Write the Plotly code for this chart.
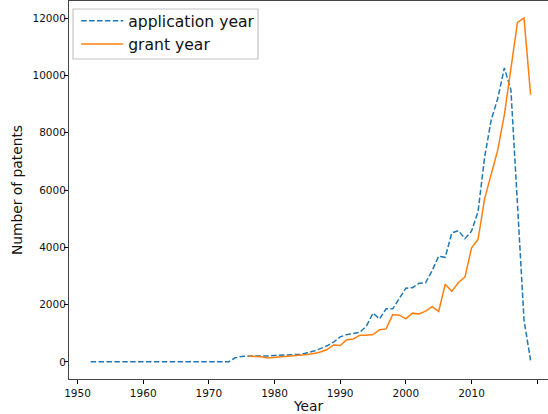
import plotly.graph_objects as go

app_years = list(range(1952, 2020))
app_counts = [0] * 22 + [
    140, 190, 200, 195, 185, 200, 225, 240, 250, 245, 260, 320, 375, 460, 560, 690,
    870, 950, 990, 1030, 1250, 1700, 1500, 1850, 1850, 2200, 2570, 2590, 2740, 2760,
    3180, 3690, 3650, 4500, 4580, 4300, 4560, 5250, 7150, 8450, 9200, 10260, 9500,
    5500, 1450, 50]

grant_years = list(range(1976, 2020))
grant_counts = [
    200, 200, 175, 130, 150, 180, 195, 195, 225, 255, 290, 345, 430, 590, 570, 770,
    800, 930, 925, 950, 1120, 1150, 1650, 1630, 1500, 1700, 1670, 1770, 1930, 1760,
    2710, 2460, 2770, 2960, 3970, 4280, 5700, 6600, 7400, 8620, 10200, 11850, 12000, 9330]

x_ticks = [1950, 1960, 1970, 1980, 1990, 2000, 2010, 2020]
y_ticks = [0, 2000, 4000, 6000, 8000, 10000, 12000]

fig = go.Figure()
fig.add_trace(go.Scatter(x=app_years, y=app_counts, mode="lines", name="application year",
                         line=dict(color="#1f77b4", width=1.5, dash="5.5px,2.4px")))
fig.add_trace(go.Scatter(x=grant_years, y=grant_counts, mode="lines", name="grant year",
                         line=dict(color="#ff7f0e", width=1.5)))

axis_common = dict(showgrid=False, zeroline=False, ticks="outside", ticklen=4, tickwidth=1,
                   tickcolor="#000", showline=True, linecolor="#444", linewidth=1,
                   tickfont=dict(family="DejaVu Sans", size=10.5, color="#111"))

fig.update_layout(
    width=548, height=414,
    margin=dict(l=69, r=0, t=1, b=35, pad=0),
    paper_bgcolor="white", plot_bgcolor="white",
    font=dict(family="DejaVu Sans", color="#111"),
    xaxis=dict(range=[1948.7, 2021.65], tickvals=x_ticks, mirror=True, automargin=False,
               title=dict(text="Year", font=dict(size=13.8), standoff=4), **axis_common),
    yaxis=dict(range=[-600, 12600], tickvals=y_ticks, tickformat="d", automargin=False,
               ticklabelstandoff=-4,
               title=dict(text="Number of patents", font=dict(size=13.8), standoff=6), **axis_common),
    legend=dict(x=0.015, y=0.992, xanchor="left", yanchor="top",
                bgcolor="rgba(0,0,0,0)", borderwidth=0,
                font=dict(family="DejaVu Sans", size=15.6, color="#111"),
                tracegroupgap=0, itemwidth=42),
    showlegend=True,
)
fig.add_shape(type="rect", xref="paper", yref="paper",
              x0=0.0084, x1=0.3946, y0=0.8466, y1=0.9788,
              line=dict(color="#c4c4c4", width=1.2), fillcolor="rgba(255,255,255,0.8)",
              layer="below")

fig.write_html("out.html", config={"displayModeBar": False},
               post_script="document.body.style.margin='0';document.body.style.padding='0';")
